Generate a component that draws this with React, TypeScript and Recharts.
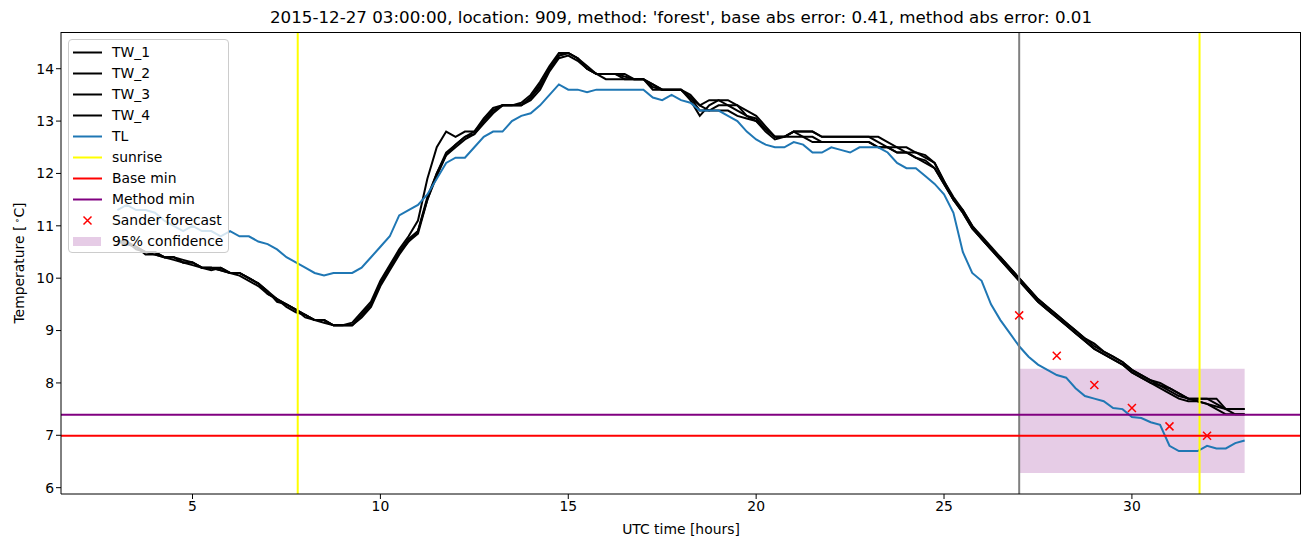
import { ComposedChart, Line, Scatter, XAxis, YAxis, ReferenceLine, ReferenceArea } from 'recharts'

// forecast window, 15 min steps
const hours = [
  3, 3.25, 3.5, 3.75, 4, 4.25, 4.5, 4.75, 5, 5.25, 5.5, 5.75, 6, 6.25, 6.5, 6.75,
  7, 7.25, 7.5, 7.75, 8, 8.25, 8.5, 8.75, 9, 9.25, 9.5, 9.75, 10, 10.25, 10.5, 10.75,
  11, 11.25, 11.5, 11.75, 12, 12.25, 12.5, 12.75, 13, 13.25, 13.5, 13.75, 14, 14.25, 14.5, 14.75,
  15, 15.25, 15.5, 15.75, 16, 16.25, 16.5, 16.75, 17, 17.25, 17.5, 17.75, 18, 18.25, 18.5, 18.75,
  19, 19.25, 19.5, 19.75, 20, 20.25, 20.5, 20.75, 21, 21.25, 21.5, 21.75, 22, 22.25, 22.5, 22.75,
  23, 23.25, 23.5, 23.75, 24, 24.25, 24.5, 24.75, 25, 25.25, 25.5, 25.75, 26, 26.25, 26.5, 26.75,
  27, 27.25, 27.5, 27.75, 28, 28.25, 28.5, 28.75, 29, 29.25, 29.5, 29.75, 30, 30.25, 30.5, 30.75,
  31, 31.25, 31.5, 31.75, 32, 32.25, 32.5, 32.75, 33,
]

const tw1 = [
  10.7, 10.7, 10.6, 10.5, 10.5, 10.4, 10.4, 10.35, 10.3, 10.2, 10.2, 10.2, 10.1, 10.1, 10.0, 9.9,
  9.75, 9.6, 9.5, 9.4, 9.3, 9.2, 9.2, 9.1, 9.1, 9.1, 9.3, 9.5, 9.9, 10.2, 10.5, 10.75,
  10.9, 11.55, 12.0, 12.4, 12.55, 12.7, 12.75, 13.0, 13.2, 13.3, 13.3, 13.3, 13.45, 13.65, 14.0, 14.25,
  14.3, 14.2, 14.0, 13.9, 13.9, 13.9, 13.85, 13.8, 13.8, 13.7, 13.6, 13.6, 13.6, 13.45, 13.3, 13.4,
  13.4, 13.3, 13.3, 13.1, 13.05, 12.85, 12.7, 12.7, 12.8, 12.8, 12.8, 12.7, 12.7, 12.7, 12.7, 12.7,
  12.7, 12.7, 12.6, 12.5, 12.5, 12.4, 12.35, 12.2, 11.85, 11.55, 11.3, 11.0, 10.8, 10.6, 10.4, 10.2,
  10.0, 9.8, 9.6, 9.45, 9.3, 9.15, 9.0, 8.85, 8.75, 8.6, 8.5, 8.4, 8.25, 8.15, 8.05, 8.0,
  7.9, 7.8, 7.7, 7.7, 7.7, 7.6, 7.5, 7.5, 7.5,
]

const tw2 = [
  10.7, 10.65, 10.6, 10.5, 10.45, 10.4, 10.4, 10.3, 10.3, 10.2, 10.2, 10.15, 10.1, 10.1, 10.0, 9.9,
  9.7, 9.6, 9.5, 9.4, 9.3, 9.2, 9.2, 9.1, 9.1, 9.15, 9.35, 9.55, 9.95, 10.25, 10.55, 10.8,
  11.1, 11.9, 12.5, 12.8, 12.7, 12.8, 12.8, 13.05, 13.25, 13.3, 13.3, 13.35, 13.5, 13.75, 14.05, 14.3,
  14.3, 14.2, 14.05, 13.9, 13.9, 13.9, 13.9, 13.8, 13.8, 13.7, 13.6, 13.6, 13.6, 13.4, 13.1, 13.3,
  13.4, 13.4, 13.3, 13.2, 13.1, 12.9, 12.7, 12.7, 12.8, 12.8, 12.8, 12.7, 12.7, 12.7, 12.7, 12.7,
  12.7, 12.6, 12.5, 12.5, 12.4, 12.4, 12.3, 12.2, 11.85, 11.5, 11.3, 11.0, 10.75, 10.55, 10.4, 10.2,
  10.0, 9.8, 9.6, 9.45, 9.3, 9.15, 9.0, 8.85, 8.7, 8.6, 8.5, 8.4, 8.25, 8.15, 8.05, 7.95,
  7.9, 7.8, 7.7, 7.7, 7.7, 7.7, 7.5, 7.5, 7.5,
]

const tw3 = [
  10.7, 10.7, 10.55, 10.5, 10.5, 10.4, 10.35, 10.3, 10.25, 10.2, 10.2, 10.15, 10.1, 10.05, 9.95, 9.85,
  9.7, 9.6, 9.45, 9.35, 9.3, 9.2, 9.15, 9.1, 9.1, 9.1, 9.25, 9.45, 9.85, 10.15, 10.45, 10.7,
  10.85, 11.5, 11.95, 12.35, 12.5, 12.65, 12.75, 12.95, 13.15, 13.3, 13.3, 13.3, 13.4, 13.6, 13.95, 14.2,
  14.25, 14.15, 14.0, 13.9, 13.8, 13.8, 13.8, 13.8, 13.8, 13.6, 13.6, 13.6, 13.6, 13.5, 13.3, 13.2,
  13.2, 13.2, 13.1, 13.05, 13.0, 12.8, 12.65, 12.7, 12.7, 12.7, 12.6, 12.6, 12.6, 12.6, 12.6, 12.6,
  12.6, 12.5, 12.5, 12.4, 12.4, 12.3, 12.2, 12.1, 11.8, 11.5, 11.25, 10.95, 10.75, 10.55, 10.35, 10.15,
  9.95, 9.75, 9.55, 9.4, 9.25, 9.1, 8.95, 8.8, 8.65, 8.55, 8.45, 8.35, 8.2, 8.1, 8.0, 7.9,
  7.8, 7.7, 7.65, 7.65, 7.6, 7.5, 7.4, 7.4, 7.4,
]

const tw4 = [
  10.7, 10.65, 10.6, 10.45, 10.45, 10.4, 10.4, 10.3, 10.3, 10.2, 10.15, 10.2, 10.1, 10.1, 10.0, 9.9,
  9.75, 9.55, 9.5, 9.4, 9.25, 9.2, 9.2, 9.1, 9.1, 9.1, 9.3, 9.5, 9.9, 10.2, 10.5, 10.7,
  10.9, 11.5, 12.0, 12.35, 12.55, 12.7, 12.8, 13.0, 13.2, 13.3, 13.3, 13.3, 13.45, 13.7, 14.0, 14.25,
  14.3, 14.2, 14.0, 13.9, 13.9, 13.9, 13.8, 13.8, 13.8, 13.65, 13.6, 13.6, 13.6, 13.45, 13.2, 13.2,
  13.3, 13.3, 13.2, 13.1, 13.0, 12.85, 12.7, 12.7, 12.8, 12.7, 12.7, 12.6, 12.6, 12.6, 12.6, 12.6,
  12.6, 12.5, 12.5, 12.4, 12.4, 12.3, 12.25, 12.1, 11.8, 11.5, 11.25, 10.95, 10.75, 10.55, 10.35, 10.15,
  9.95, 9.75, 9.55, 9.4, 9.25, 9.1, 8.95, 8.8, 8.65, 8.55, 8.45, 8.35, 8.2, 8.1, 8.0, 7.95,
  7.85, 7.75, 7.7, 7.65, 7.6, 7.55, 7.5, 7.4, 7.4,
]

const tl = [
  11.3, 11.4, 11.3, 11.3, 11.25, 11.1, 11.0, 10.9, 11.0, 10.9, 10.9, 10.8, 10.9, 10.8, 10.8, 10.7,
  10.65, 10.55, 10.4, 10.3, 10.2, 10.1, 10.05, 10.1, 10.1, 10.1, 10.2, 10.4, 10.6, 10.8, 11.2, 11.3,
  11.4, 11.6, 11.9, 12.2, 12.3, 12.3, 12.5, 12.7, 12.8, 12.8, 13.0, 13.1, 13.15, 13.3, 13.5, 13.7,
  13.6, 13.6, 13.55, 13.6, 13.6, 13.6, 13.6, 13.6, 13.6, 13.45, 13.4, 13.5, 13.4, 13.35, 13.2, 13.2,
  13.2, 13.1, 13.0, 12.8, 12.65, 12.55, 12.5, 12.5, 12.6, 12.55, 12.4, 12.4, 12.5, 12.45, 12.4, 12.5,
  12.5, 12.5, 12.4, 12.2, 12.1, 12.1, 11.95, 11.8, 11.6, 11.25, 10.5, 10.1, 9.95, 9.5, 9.2, 8.95,
  8.7, 8.5, 8.35, 8.25, 8.15, 8.1, 7.9, 7.75, 7.7, 7.65, 7.52, 7.5, 7.35, 7.33, 7.25, 7.2,
  6.8, 6.7, 6.7, 6.7, 6.8, 6.75, 6.75, 6.85, 6.9,
]

const forecastHours = [27, 28, 29, 30, 31, 32]
const sanderForecast = [9.29, 8.52, 7.96, 7.52, 7.17, 6.99]

const sunriseHours = [7.8, 31.8]
const issueHour = 27
const baseMin = 6.99
const methodMin = 7.39
const confidenceHours = [27, 33]
const confidenceTemps = [6.28, 8.27]

const xTicks = [5, 10, 15, 20, 25, 30]
const yTicks = [6, 7, 8, 9, 10, 11, 12, 13, 14]

const rows = hours.map((hour, i) => ({
  hour,
  TW_1: tw1[i],
  TW_2: tw2[i],
  TW_3: tw3[i],
  TW_4: tw4[i],
  TL: tl[i],
}))

const forecastRows = forecastHours.map((hour, i) => ({ hour, sander: sanderForecast[i] }))

const FONT = '"DejaVu Sans", sans-serif'
const BLUE = '#1f77b4'

function XMark(props: any) {
  const { cx, cy } = props
  const s = 4
  return (
    <path
      d={`M${cx - s},${cy - s}L${cx + s},${cy + s}M${cx - s},${cy + s}L${cx + s},${cy - s}`}
      stroke="#ff0000"
      strokeWidth={1.5}
      fill="none"
    />
  )
}

const legendItems = [
  { label: 'TW_1', kind: 'line', color: '#000000' },
  { label: 'TW_2', kind: 'line', color: '#000000' },
  { label: 'TW_3', kind: 'line', color: '#000000' },
  { label: 'TW_4', kind: 'line', color: '#000000' },
  { label: 'TL', kind: 'line', color: BLUE },
  { label: 'sunrise', kind: 'line', color: '#ffff00' },
  { label: 'Base min', kind: 'line', color: '#ff0000' },
  { label: 'Method min', kind: 'line', color: '#800080' },
  { label: 'Sander forecast', kind: 'x', color: '#ff0000' },
  { label: '95% confidence', kind: 'patch', color: 'rgba(128,0,128,0.2)' },
]

function LegendBox() {
  return (
    <div
      style={{
        position: 'absolute',
        left: 68,
        top: 39,
        width: 161,
        height: 214,
        boxSizing: 'border-box',
        border: '1px solid #cccccc',
        borderRadius: 4,
        background: 'rgba(255,255,255,0.8)',
      }}
    >
      {legendItems.map((item, i) => (
        <div
          key={item.label}
          style={{ position: 'absolute', left: 0, top: 2 + i * 21, height: 21, width: 159 }}
        >
          <svg width={40} height={21} style={{ position: 'absolute', left: 0, top: 0 }}>
            {item.kind === 'line' && (
              <line x1={4} x2={33} y1={10.5} y2={10.5} stroke={item.color} strokeWidth={2} />
            )}
            {item.kind === 'x' && (
              <path d="M14.5,6.5L22.5,14.5M14.5,14.5L22.5,6.5" stroke={item.color} strokeWidth={1.5} />
            )}
            {item.kind === 'patch' && <rect x={4} y={6} width={28} height={9} fill={item.color} />}
          </svg>
          <span
            style={{
              position: 'absolute',
              left: 43,
              top: 0,
              lineHeight: '21px',
              fontSize: 13.9,
              fontFamily: FONT,
              color: '#000',
              whiteSpace: 'nowrap',
            }}
          >
            {item.label}
          </span>
        </div>
      ))}
    </div>
  )
}

export default function App() {
  const tick = { fill: '#000', fontSize: 13.9, fontFamily: FONT }
  return (
    <div style={{ position: 'relative', width: 1311, height: 547, margin: -8, background: '#fff', fontFamily: FONT }}>
      <ComposedChart
        width={1311}
        height={547}
        data={rows}
        margin={{ top: 32, right: 10, bottom: 23, left: 11 }}
      >
        <XAxis
          dataKey="hour"
          type="number"
          domain={[1.5, 34.5]}
          ticks={xTicks}
          height={30}
          tick={tick}
          tickSize={5}
          tickLine={{ stroke: '#000' }}
          axisLine={{ stroke: '#000' }}
          allowDataOverflow
        />
        <YAxis
          type="number"
          domain={[5.879, 14.701]}
          ticks={yTicks}
          width={50}
          tick={tick}
          tickSize={5}
          tickLine={{ stroke: '#000' }}
          axisLine={{ stroke: '#000' }}
          allowDataOverflow
        />
        <ReferenceArea
          x1={confidenceHours[0]}
          x2={confidenceHours[1]}
          y1={confidenceTemps[0]}
          y2={confidenceTemps[1]}
          fill="#800080"
          fillOpacity={0.2}
          stroke="none"
        />
        <Line type="linear" dataKey="TW_1" stroke="#000" strokeWidth={2} dot={false} isAnimationActive={false} />
        <Line type="linear" dataKey="TW_2" stroke="#000" strokeWidth={2} dot={false} isAnimationActive={false} />
        <Line type="linear" dataKey="TW_3" stroke="#000" strokeWidth={2} dot={false} isAnimationActive={false} />
        <Line type="linear" dataKey="TW_4" stroke="#000" strokeWidth={2} dot={false} isAnimationActive={false} />
        <Line type="linear" dataKey="TL" stroke={BLUE} strokeWidth={2} dot={false} isAnimationActive={false} />
        {sunriseHours.map((h) => (
          <ReferenceLine key={h} x={h} stroke="#ffff00" strokeWidth={2} />
        ))}
        <ReferenceLine x={issueHour} stroke="#808080" strokeWidth={2} />
        <ReferenceLine y={baseMin} stroke="#ff0000" strokeWidth={2} />
        <ReferenceLine y={methodMin} stroke="#800080" strokeWidth={2} />
        <Scatter data={forecastRows} dataKey="sander" shape={XMark} isAnimationActive={false} />
      </ComposedChart>

      {/* top + right spines */}
      <div
        style={{
          position: 'absolute',
          left: 61,
          top: 32,
          width: 1240,
          height: 462,
          boxSizing: 'border-box',
          borderTop: '1px solid #000',
          borderRight: '1px solid #000',
          pointerEvents: 'none',
        }}
      />

      <LegendBox />

      <div style={{ position: 'absolute', left: 61, width: 1240, top: 7, lineHeight: '20px', textAlign: 'center', fontSize: 16.7 }}>
        2015-12-27 03:00:00, location: 909, method: 'forest', base abs error: 0.41, method abs error: 0.01
      </div>
      <div style={{ position: 'absolute', left: 61, width: 1240, top: 519, lineHeight: '20px', textAlign: 'center', fontSize: 13.9 }}>
        UTC time [hours]
      </div>
      <div
        style={{
          position: 'absolute',
          left: 18,
          top: 263,
          transform: 'translate(-50%, -50%) rotate(-90deg)',
          whiteSpace: 'nowrap',
          fontSize: 13.9,
          lineHeight: '20px',
        }}
      >
        Temperature [ <sup style={{ fontSize: 9, verticalAlign: 4, marginLeft: -2 }}>∘</sup>C]
      </div>
    </div>
  )
}
